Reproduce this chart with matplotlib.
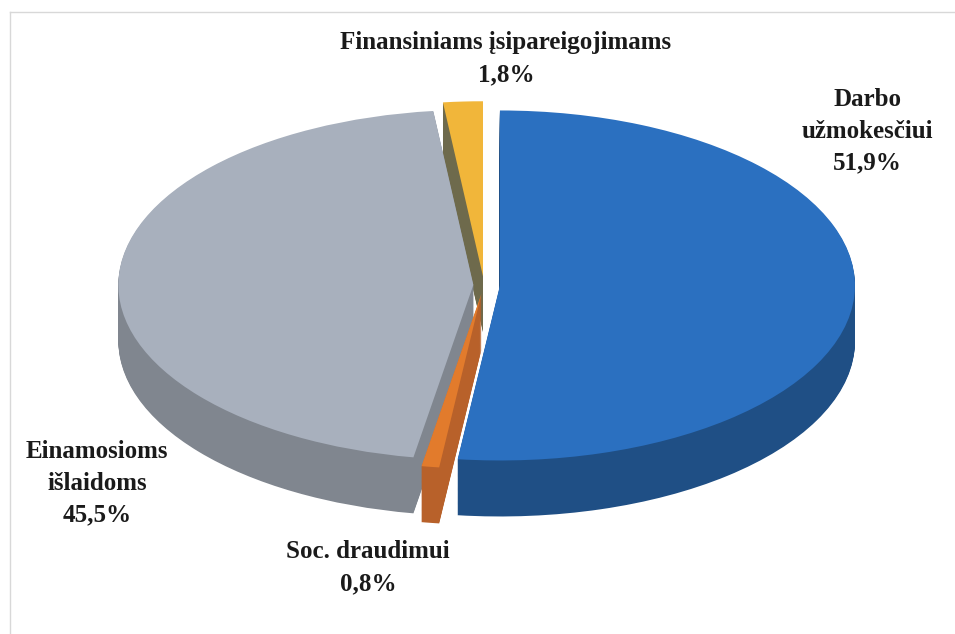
import numpy as np
import matplotlib.pyplot as plt

# duomenys
labels  = ["Darbo\nužmokesčiui", "Soc. draudimui", "Einamosioms\nišlaidoms",
           "Finansiniams įsipareigojimams"]
shares  = [51.9, 0.8, 45.5, 1.8]
pct_txt = ["51,9%", "0,8%", "45,5%", "1,8%"]

top_col  = ["#2b70c0", "#e27b2c", "#a8b0bd", "#f1b63a"]
side_col = ["#1f4f85", "#b8612a", "#80868f", "#6e6a4c"]
explode  = [0.045, 0.05, 0.03, 0.05]

# 1 vnt. x = 355 px, 1 vnt. y = 175 px (suplota elipse)
W, H = 955, 634
cx, cy = 484, 285
sx, sy = 355.0, 175.0
depth = 0.32
layers = 60

fig = plt.figure(figsize=(W / 100, H / 100), dpi=100)
ax = fig.add_axes([0, 0, 1, 1])

# sonines sienos - sluoksniai is apacios i virsu
for k in range(layers, 0, -1):
    ax.pie(shares, colors=side_col, startangle=90, counterclock=False,
           explode=explode, center=(0, -depth * k / layers), radius=1,
           wedgeprops=dict(linewidth=0))

# virsutinis pavirsius
ax.pie(shares, colors=top_col, startangle=90, counterclock=False,
       explode=explode, center=(0, 0), radius=1,
       wedgeprops=dict(linewidth=0))

ax.set_aspect("auto")
ax.set_xlim(-cx / sx, (W - cx) / sx)
ax.set_ylim(-(H - cy) / sy, cy / sy)
ax.axis("off")

# remelis
fig.add_artist(plt.Line2D([10 / W, 1], [1 - 12 / H, 1 - 12 / H], color="#d8d8d8", lw=1))
fig.add_artist(plt.Line2D([10 / W, 10 / W], [0, 1 - 12 / H], color="#d8d8d8", lw=1))

# etiketes
pos = [(867, 131), (368, 568), (97, 483), (506, 59)]
for (px, py), lab, p in zip(pos, labels, pct_txt):
    ax.text(px / W, 1 - py / H, lab + "\n" + p, transform=fig.transFigure,
            ha="center", va="center", fontsize=18, fontweight="bold",
            family="Liberation Serif", color="#1a1a1a", linespacing=1.5)

plt.savefig("out.png", dpi=100)
